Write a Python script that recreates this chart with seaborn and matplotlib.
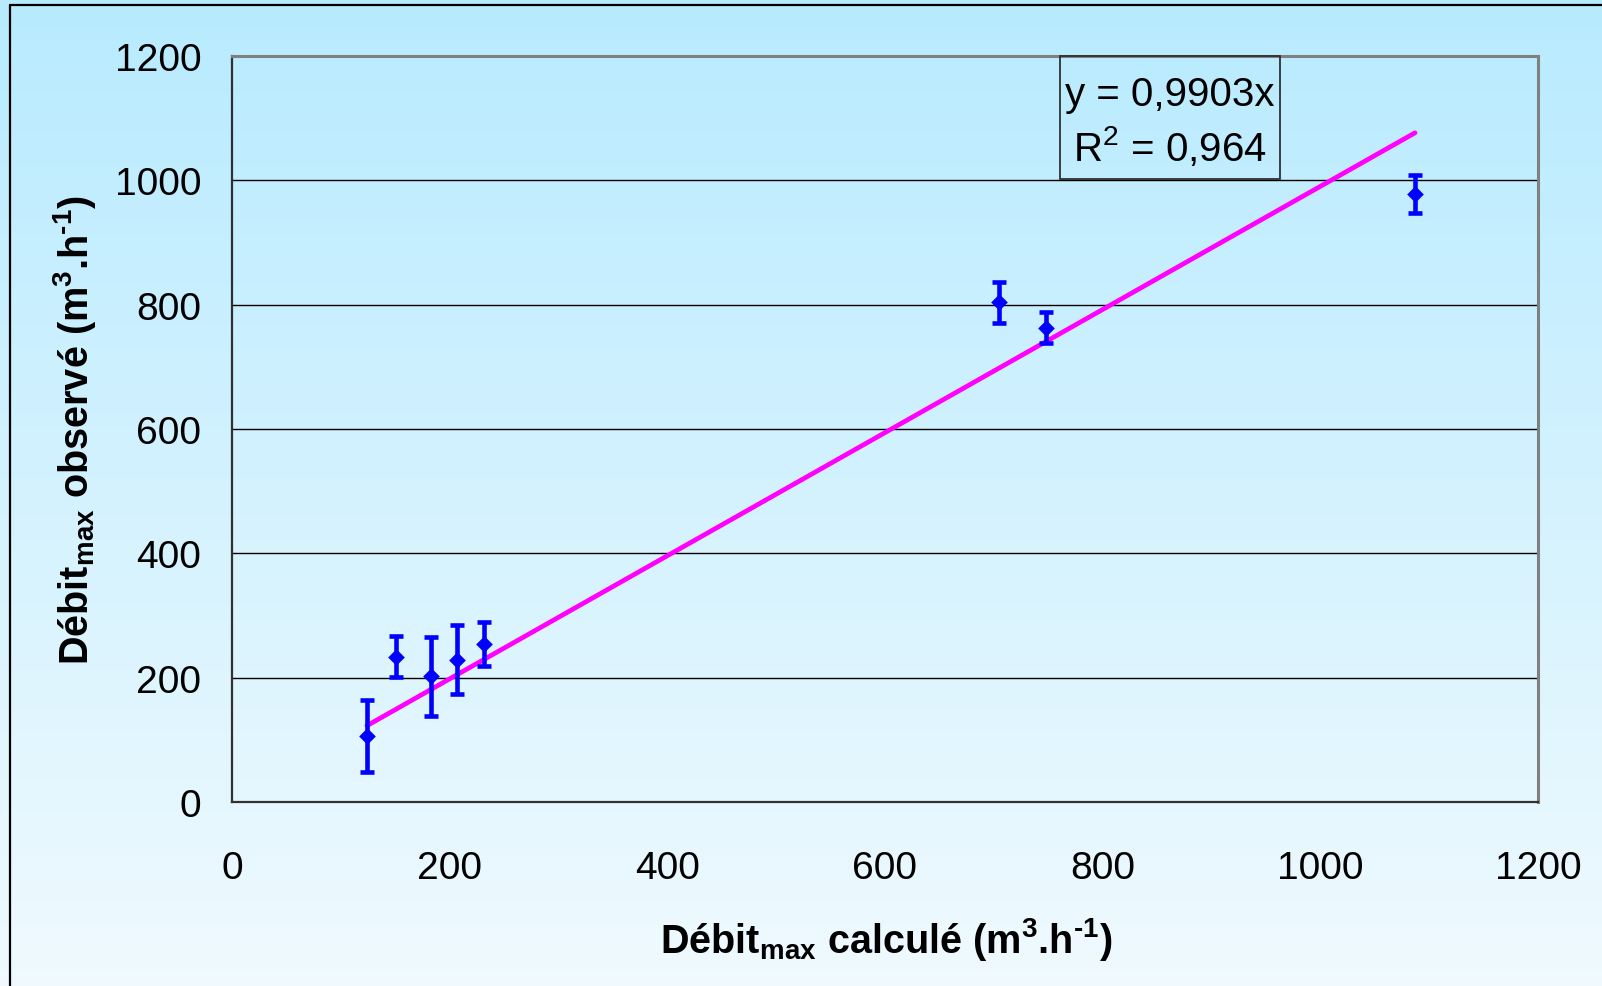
import numpy as np
import matplotlib
matplotlib.use("Agg")
import matplotlib.pyplot as plt
import seaborn as sns
from matplotlib.patches import Rectangle
from matplotlib.lines import Line2D

# ---- data ----
debit_calcule = [124, 151, 183, 207, 232, 705, 748, 1087]
debit_observe = [106, 234, 202, 229, 254, 804, 763, 978]
erreur = [58, 33, 64, 56, 35, 33, 25, 31]
pente = 0.9903
r2 = 0.964
x_ticks = [0, 200, 400, 600, 800, 1000, 1200]
y_ticks = [0, 200, 400, 600, 800, 1000, 1200]

sns.set_style("white")
plt.rcParams['font.family'] = ['Liberation Sans', 'DejaVu Sans']
plt.rcParams['mathtext.fontset'] = 'custom'
plt.rcParams['mathtext.rm'] = 'Liberation Sans'
plt.rcParams['mathtext.bf'] = 'Liberation Sans:bold'
plt.rcParams['mathtext.it'] = 'Liberation Sans:italic'
plt.rcParams['text.color'] = 'black'
plt.rcParams['axes.labelcolor'] = 'black'
plt.rcParams['xtick.color'] = 'black'
plt.rcParams['ytick.color'] = 'black'

W, H = 1602, 987
fig = plt.figure(figsize=(W / 100, H / 100), dpi=100)

# gradient background
bg = fig.add_axes([0, 0, 1, 1], zorder=-10)
g = np.linspace(0, 1, 256)[:, None, None]
top_c = np.array([0.72, 0.92, 0.996])
bot_c = np.array([0.94, 0.98, 1.0])
img = top_c * (1 - g) + bot_c * g
img = np.repeat(img, 2, axis=1)
bg.imshow(img, aspect='auto', extent=[0, 1, 0, 1])
bg.set_axis_off()

# outer frame (left and top visible)
fig.add_artist(Line2D([10 / W, 10 / W], [0, 1 - 6 / H], transform=fig.transFigure, color='black', lw=1.6))
fig.add_artist(Line2D([10 / W, 1], [1 - 6 / H, 1 - 6 / H], transform=fig.transFigure, color='black', lw=1.6))

left, right, top, bottom = 232, 1538, 57, 803
ax = fig.add_axes([left / W, 1 - bottom / H, (right - left) / W, (bottom - top) / H])
ax.set_facecolor('none')

# trend line
xl = [min(debit_calcule), max(debit_calcule)]
yl = [pente * v for v in xl]
sns.lineplot(x=xl, y=yl, color='#FF00FF', linewidth=3.4, ax=ax, zorder=3)

# error bars
ax.errorbar(debit_calcule, debit_observe, yerr=erreur, fmt='none', ecolor='#0000FF',
            elinewidth=3.3, capsize=5.0, capthick=3.3, zorder=4)
sns.scatterplot(x=debit_calcule, y=debit_observe, marker='D', s=72, color='#0000FF',
                linewidth=0, ax=ax, zorder=5)

ax.set_xlim(0, 1200)
ax.set_ylim(0, 1200)
ax.set_xticks(x_ticks)
ax.set_yticks(y_ticks)
ax.set_xticklabels([str(t) for t in x_ticks])
ax.set_yticklabels([str(t) for t in y_ticks])
ax.yaxis.grid(True, color='black', linewidth=1.0)
ax.xaxis.grid(False)
ax.set_axisbelow(True)

for s in ['top', 'right']:
    ax.spines[s].set_color('#808080')
    ax.spines[s].set_linewidth(2.2)
for s in ['left', 'bottom']:
    ax.spines[s].set_color('#303030')
    ax.spines[s].set_linewidth(1.6)

ax.tick_params(axis='x', direction='out', length=8.6, width=1.3, color='#303030',
               labelsize=28, pad=26)
ax.tick_params(axis='y', direction='out', length=8.6, width=1.3, color='#303030',
               labelsize=28, pad=13.5)

hy = '\u2010'
ax.set_xlabel(r'Débit$_{\mathbf{max}}$ calculé (m$^{\mathbf{3}}$.h$^{\mathbf{' + hy + r'1}}$)',
              fontsize=28.5, fontweight='bold')
ax.set_ylabel(r'Débit$_{\mathbf{max}}$ observé (m$^{\mathbf{3}}$.h$^{\mathbf{' + hy + r'1}}$)',
              fontsize=28.5, fontweight='bold')
ax.xaxis.set_label_coords((886 - left) / (right - left), -(916 - bottom) / (bottom - top))
ax.yaxis.set_label_coords(-(left - 98) / (right - left), (bottom - 430) / (bottom - top))

# equation box
ax.add_patch(Rectangle((761, 1002), 202, 198, facecolor='none', edgecolor='#303030',
                       linewidth=1.3, clip_on=False, zorder=6))
eq = f"y = {pente:.4f}x".replace('.', ',')
rr = f"R$^2$ = {r2:.3f}".replace('.', ',')
ax.text(862, 1139, eq, ha='center', va='center', fontsize=29, zorder=7)
ax.text(862, 1055, rr, ha='center', va='center', fontsize=29, zorder=7)

fig.savefig('out.png', dpi=100)
